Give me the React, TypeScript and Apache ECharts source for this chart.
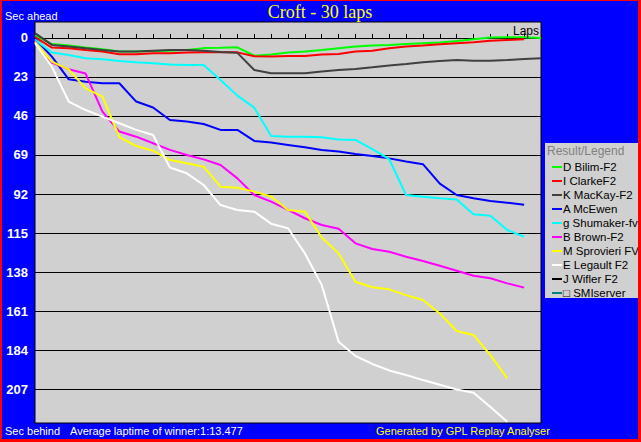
import React, { useEffect, useRef } from "react";
import * as echarts from "echarts";

// Seconds behind (positive) / ahead (negative) of the winner's average pace, per lap 0..30
const bilim = [-1.5, 3.6, 4.5, 5.6, 6.6, 8, 8, 7.7, 7.5, 7.1, 6, 5.8, 5.5, 10.5, 9.7, 8.6, 8, 7.1, 6.1, 5.1, 4.5, 4.1, 3.5, 3.1, 2.7, 1.8, 0.8, -0.2, -0.4, -0.4, 0];
const clarke = [-0.5, 5.7, 6.1, 7.1, 8, 9.6, 9.6, 9, 9, 8.6, 8.5, 8.5, 8.5, 10.8, 11, 10.6, 10.6, 9.8, 9.4, 8, 7.5, 6.1, 5.1, 4.5, 3.7, 3.1, 2.5, 1.6, 1.2, 0.8];
const mackay = [-2.8, 4.1, 5.1, 6.1, 7.1, 8, 8, 7.5, 7.1, 7.1, 7.5, 8.3, 8.8, 18.9, 20.8, 20.8, 20.8, 19.8, 18.9, 18.3, 17.3, 16.2, 15.3, 14.3, 13.6, 13, 13.4, 13.4, 13, 12.4, 12];
const mcewen = [0.3, 11, 24.4, 25.8, 26.7, 26.7, 37.5, 41, 48.4, 49.3, 50.7, 54.2, 54.2, 60.7, 61.7, 63.1, 64.5, 66, 67, 68.4, 69.6, 71, 72.9, 74.4, 85.9, 92.6, 94.5, 96.1, 97.1, 98.3];
const shumaker = [1, 8.6, 10, 12, 12.6, 13.6, 14.3, 14.9, 15.7, 15.9, 15.9, 24.8, 34, 41.1, 57.8, 58.2, 58.2, 58.6, 59.8, 60.1, 65.5, 71.5, 92.6, 93.6, 94.5, 95.3, 104, 104.8, 113.2, 117.2];
const brown = [1.8, 14.5, 18.5, 21, 43.4, 55.2, 58.2, 62.1, 66, 69, 71.6, 74.9, 82.8, 92.6, 96.5, 101.4, 106.3, 110.3, 112.5, 121.1, 124.4, 126, 129, 131.5, 134.3, 137.2, 140.2, 141.7, 144.7, 147.2];
const sprovieri = [2.4, 14, 18.5, 29.7, 34.6, 58.4, 63.7, 66.5, 72, 73.9, 75.9, 87.7, 88.3, 90.6, 93.5, 101.4, 102.4, 117.6, 127, 143.7, 147, 148.2, 151.6, 154.5, 162.4, 172.8, 175.1, 187, 200.7];
const legault = [3.1, 17, 37.5, 42.5, 46.4, 50.3, 54.2, 57.2, 76.4, 79.8, 86.7, 98.5, 101.4, 102.4, 109.5, 112.2, 127, 145.7, 179.1, 187.5, 192.2, 196, 198.7, 201.7, 204.5, 207.2, 209.2, 217.6, 226.3];
const wifler: number[] = [];
const smiserver: number[] = [];

const driverNames = [
  "D Bilim-F2",
  "I ClarkeF2",
  "K MacKay-F2",
  "A McEwen",
  "g Shumaker-fv",
  "B Brown-F2",
  "M Sprovieri FV",
  "E Legault F2",
  "J Wifler F2",
  "\u25A1 SMIserver",
];
const driverValues = [bilim, clarke, mackay, mcewen, shumaker, brown, sprovieri, legault, wifler, smiserver];
const driverColors = ["#00FF00", "#FF0000", "#404040", "#0000FF", "#00FFFF", "#FF00FF", "#FFFF00", "#FFFFFF", "#000000", "#008080"];

const yTicks = [0, 23, 46, 69, 92, 115, 138, 161, 184, 207];
const lapMin = 0;
const lapMax = 30;

const SANS = '"Liberation Sans", Arial, sans-serif';

export default function App() {
  const ref = useRef<HTMLDivElement>(null);
  useEffect(() => {
    if (!ref.current) return;
    const chart = echarts.init(ref.current, null, { renderer: "svg" });
    const series = driverNames.map((name, i) => ({
      name,
      type: "line",
      data: driverValues[i].map((v, lap) => [lap, v]),
      showSymbol: false,
      symbol: "none",
      color: driverColors[i],
      lineStyle: { width: 2, color: driverColors[i] },
      z: 3,
    }));
    const option: any = {
      animation: false,
      backgroundColor: "#0000FF",
      grid: {
        left: 35,
        right: 100,
        top: 22,
        bottom: 19,
        show: true,
        backgroundColor: "#D0D0D0",
        borderColor: "#000000",
        borderWidth: 1,
      },
      xAxis: {
        type: "value",
        position: "top",
        min: lapMin,
        max: lapMax,
        interval: 1,
        axisLine: { show: true, onZero: true, lineStyle: { color: "#000", width: 1 } },
        axisTick: { show: true, length: 4, lineStyle: { color: "#000", width: 1 } },
        axisLabel: { show: false },
        splitLine: { show: false },
      },
      yAxis: {
        type: "value",
        inverse: true,
        min: -9.4,
        max: 227,
        axisLine: { show: false },
        axisTick: { show: false, customValues: yTicks },
        axisLabel: {
          customValues: yTicks,
          color: "#FFFFFF",
          fontWeight: "bold",
          fontSize: 13,
          fontFamily: SANS,
          margin: 7,
        },
        splitLine: { show: true, lineStyle: { color: "#000000", width: 1 } },
      },
      legend: {
        orient: "vertical",
        left: 547,
        top: 155,
        itemWidth: 10,
        itemHeight: 2,
        itemGap: 0,
        icon: "rect",
        selectedMode: false,
        data: driverNames,
        textStyle: { color: "#000000", fontSize: 11.5, fontFamily: SANS, lineHeight: 14, padding: [0, 0, 0, -4] },
      },
      graphic: [
        { type: "rect", shape: { x: 545, y: 143, width: 93, height: 155 }, style: { fill: "#D0D0D0" }, z: 0 },
        { type: "text", x: 547, y: 151, style: { text: "Result/Legend", fill: "#808080", font: `12px ${SANS}`, textAlign: "left", textVerticalAlign: "middle", align: "left", verticalAlign: "middle" }, z: 5 },
        { type: "text", x: 320, y: 12, style: { text: "Croft - 30 laps", fill: "#FFFF00", font: '18px "Liberation Serif", "Times New Roman", serif', textAlign: "center", textVerticalAlign: "middle", align: "center", verticalAlign: "middle" }, z: 5 },
        { type: "text", x: 5, y: 16, style: { text: "Sec ahead", fill: "#FFFFFF", font: `11px ${SANS}`, textAlign: "left", textVerticalAlign: "middle", align: "left", verticalAlign: "middle" }, z: 5 },
        { type: "text", x: 5, y: 431, style: { text: "Sec behind", fill: "#FFFFFF", font: `11px ${SANS}`, textAlign: "left", textVerticalAlign: "middle", align: "left", verticalAlign: "middle" }, z: 5 },
        { type: "text", x: 70, y: 431, style: { text: "Average laptime of winner:1:13.477", fill: "#FFFFFF", font: `11px ${SANS}`, textAlign: "left", textVerticalAlign: "middle", align: "left", verticalAlign: "middle" }, z: 5 },
        { type: "text", x: 376, y: 431, style: { text: "Generated by GPL Replay Analyser", fill: "#FFFF00", font: `11px ${SANS}`, textAlign: "left", textVerticalAlign: "middle", align: "left", verticalAlign: "middle" }, z: 5 },
        { type: "text", x: 539, y: 31, style: { text: "Laps", fill: "#000000", font: `12px ${SANS}`, textAlign: "right", textVerticalAlign: "middle", align: "right", verticalAlign: "middle" }, z: 5 },
        { type: "rect", shape: { x: 0, y: 0, width: 641, height: 1 }, style: { fill: "#FF0000" }, z: 10 },
        { type: "rect", shape: { x: 0, y: 0, width: 2, height: 442 }, style: { fill: "#FF0000" }, z: 10 },
        { type: "rect", shape: { x: 638, y: 0, width: 3, height: 442 }, style: { fill: "#FF0000" }, z: 10 },
        { type: "rect", shape: { x: 0, y: 439, width: 641, height: 3 }, style: { fill: "#FF0000" }, z: 10 },
      ],
      series,
    };
    chart.setOption(option);
    return () => chart.dispose();
  }, []);
  return (
    <div
      ref={ref}
      style={{ position: "fixed", left: 0, top: 0, width: 641, height: 442 }}
    />
  );
}
